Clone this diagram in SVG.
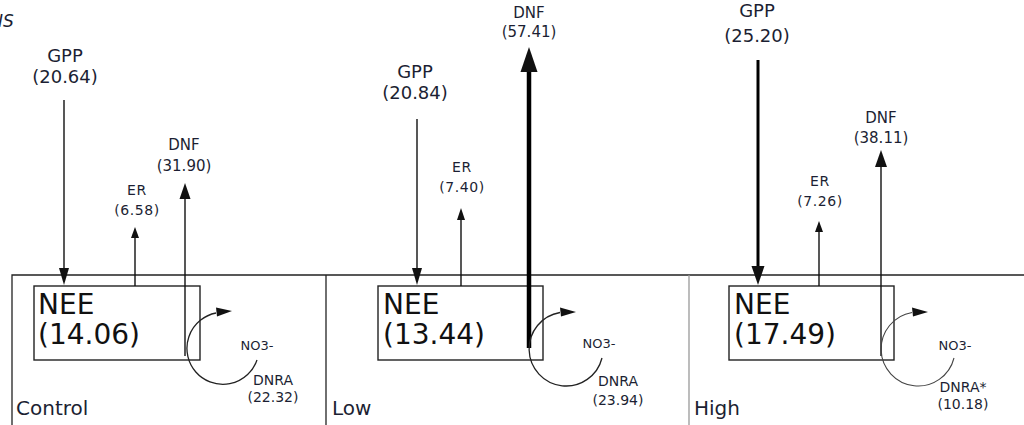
<svg xmlns="http://www.w3.org/2000/svg" width="1024" height="425" viewBox="0 0 1024 425">
<style>
text{font-family:"DejaVu Sans",Verdana,sans-serif;fill:#1c1f33}
.c{text-anchor:middle}
.gpp{font-size:18px}
.dnf{font-size:15px}
.er{font-size:14px;letter-spacing:0.6px}
.no3{font-size:13px}
.dnra{font-size:14px}
.nee{font-size:28px;fill:#111}
.panel{font-size:20px}
.frame{stroke:#222;stroke-width:1.3;fill:none}
.box{stroke:#222;stroke-width:1.4;fill:none}
.ln{stroke:#111;stroke-width:1.4;fill:none}
.arc{stroke:#222;stroke-width:1.3;fill:none}
.hd{fill:#111}
</style>
<rect width="1024" height="425" fill="#fff"/>
<text x="-2" y="27" font-size="17" font-style="italic">IS</text>
<g id="frame">
<path class="frame" d="M12,425 V275 H1024"/>
<line class="frame" x1="326" y1="275" x2="326" y2="425"/>
<line x1="689" y1="275" x2="689" y2="425" stroke="#999" stroke-width="1.3"/>
</g>
<g id="control">
<rect class="box" x="34" y="286" width="166" height="74"/>
<text class="nee" x="38" y="314">NEE</text>
<text class="nee" x="38" y="344">(14.06)</text>
<text class="panel" x="16" y="415">Control</text>
<text class="gpp c" x="65" y="62">GPP</text>
<text class="gpp c" x="65" y="83">(20.64)</text>
<text class="er c" x="137" y="195">ER</text>
<text class="er c" x="137" y="215">(6.58)</text>
<text class="dnf c" x="184" y="150">DNF</text>
<text class="dnf c" x="184" y="171">(31.90)</text>
<text class="no3 c" x="257" y="350">NO3-</text>
<text class="dnra c" x="273" y="385">DNRA</text>
<text class="dnra c" x="273" y="402">(22.32)</text>
</g>
<g id="low">
<rect class="box" x="378" y="286" width="165" height="74"/>
<text class="nee" x="383" y="314">NEE</text>
<text class="nee" x="383" y="344">(13.44)</text>
<text class="panel" x="332" y="415">Low</text>
<text class="gpp c" x="415" y="78">GPP</text>
<text class="gpp c" x="415" y="99">(20.84)</text>
<text class="er c" x="462" y="172">ER</text>
<text class="er c" x="462" y="192">(7.40)</text>
<text class="dnf c" x="529" y="18" font-size="16">DNF</text>
<text class="dnf c" x="529" y="37" font-size="16">(57.41)</text>
<text class="no3 c" x="599" y="348">NO3-</text>
<text class="dnra c" x="618" y="386">DNRA</text>
<text class="dnra c" x="618" y="405">(23.94)</text>
</g>
<g id="high">
<rect class="box" x="729" y="286" width="165" height="74"/>
<text class="nee" x="734" y="314">NEE</text>
<text class="nee" x="734" y="344">(17.49)</text>
<text class="panel" x="694" y="415">High</text>
<text class="gpp c" x="757" y="17">GPP</text>
<text class="gpp c" x="757" y="42">(25.20)</text>
<text class="er c" x="820" y="186">ER</text>
<text class="er c" x="820" y="206">(7.26)</text>
<text class="dnf c" x="881" y="123">DNF</text>
<text class="dnf c" x="881" y="143">(38.11)</text>
<text class="no3 c" x="955" y="350">NO3-</text>
<text class="dnra c" x="963" y="392">DNRA*</text>
<text class="dnra c" x="963" y="409">(10.18)</text>
</g>
<g id="connectors">
<!-- Control -->
<line class="ln" x1="64" y1="100" x2="64" y2="270"/>
<polygon class="hd" points="59,268 69,268 64,285"/>
<line class="ln" x1="135" y1="286" x2="135" y2="236"/>
<polygon class="hd" points="131,238 139,238 135,227"/>
<line class="ln" x1="185" y1="356" x2="185" y2="196"/>
<polygon class="hd" points="179.5,199 190.5,199 185,183"/>
<path class="arc" d="M257,360 A36,36 0 1 1 216,313"/>
<polygon class="hd" points="232,311 216,307.5 217,316.5"/>
<!-- Low -->
<line class="ln" x1="417" y1="119" x2="417" y2="270"/>
<polygon class="hd" points="412,268 422,268 417,285"/>
<line class="ln" x1="461" y1="286" x2="461" y2="218"/>
<polygon class="hd" points="457,220 465,220 461,208"/>
<line x1="529" y1="348" x2="529" y2="68" stroke="#000" stroke-width="4.5"/>
<polygon class="hd" points="520.5,72 537.5,72 529,47"/>
<path class="arc" d="M602,358 A37,37 0 1 1 560,312.5"/>
<polygon class="hd" points="576,312 560,307.5 561,316.5"/>
<!-- High -->
<line x1="758" y1="60" x2="758" y2="270" stroke="#000" stroke-width="3"/>
<polygon class="hd" points="751.5,266 764.5,266 758,285"/>
<line class="ln" x1="819" y1="286" x2="819" y2="230"/>
<polygon class="hd" points="815,232 823,232 819,221"/>
<line class="ln" x1="881" y1="356" x2="881" y2="164"/>
<polygon class="hd" points="875,167 887,167 881,150"/>
<path d="M954,358 A37,37 0 1 1 912,312.5" stroke="#444" stroke-width="1.1" fill="none"/>
<polygon class="hd" points="928,312 912,307.5 913,316.5"/>
</g>
</svg>
